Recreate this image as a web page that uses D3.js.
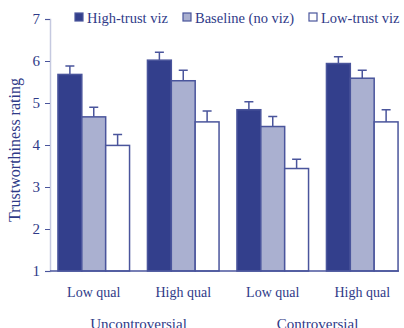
<!DOCTYPE html>
<head>
  <meta charset="utf-8">
  <script src="https://d3js.org/d3.v7.min.js"></script>
  <style>
    body { margin: 0; background: #fff; }
    svg { display: block; }
    text { font-family: "Liberation Serif", "DejaVu Serif", serif; fill: #2f3a88; }
  </style>
</head>

<body>
  <script type='text/javascript'>

    var groups = ["Uncontroversial|Low qual", "Uncontroversial|High qual", "Controversial|Low qual", "Controversial|High qual"];
    var groupLabels = ["Low qual", "High qual", "Low qual", "High qual"];
    var topics = ["Uncontroversial", "Controversial"];
    var seriesNames = ["High-trust viz", "Baseline (no viz)", "Low-trust viz"];

    // means and upper error bar ends, per series, in group order
    var highTrust = [5.68, 6.02, 4.84, 5.94];
    var highTrustErr = [5.88, 6.21, 5.03, 6.10];
    var baseline = [4.67, 5.53, 4.44, 5.59];
    var baselineErr = [4.90, 5.78, 4.68, 5.78];
    var lowTrust = [3.99, 4.55, 3.44, 4.55];
    var lowTrustErr = [4.25, 4.81, 3.66, 4.84];

    var yTicks = [1, 2, 3, 4, 5, 6, 7];

    var width = 404, height = 328;
    var ink = "#4a559c";
    var fills = ["#333f8c", "#aab0d0", "#ffffff"];

    var svg = d3.select('body')
      .append('svg')
      .attr("width", width)
      .attr("height", height);

    var x0 = d3.scaleBand()
      .domain(groups)
      .range([49, 407])
      .paddingInner(0.2)
      .paddingOuter(0.1);

    var x1 = d3.scaleBand()
      .domain(seriesNames)
      .range([0, x0.bandwidth()]);

    var y = d3.scaleLinear()
      .domain([1, 7])
      .range([271, 19]);

    var series = [
      { name: seriesNames[0], vals: highTrust, errs: highTrustErr },
      { name: seriesNames[1], vals: baseline, errs: baselineErr },
      { name: seriesNames[2], vals: lowTrust, errs: lowTrustErr }
    ];

    // y axis
    var yAxis = d3.axisLeft(y)
      .tickValues(yTicks)
      .tickSize(5)
      .tickPadding(5)
      .tickFormat(d3.format("d"));

    var gy = svg.append('g')
      .attr('transform', 'translate(50,0)')
      .call(yAxis);
    gy.select('.domain').attr('stroke', '#c5c9e0').attr('stroke-width', 1.5);
    gy.selectAll('.tick line').attr('stroke', ink);
    gy.selectAll('.tick text').attr('font-size', 15).attr('fill', '#2f3a88')
      .style('font-family', '"Liberation Serif", serif');

    svg.append('text')
      .attr('transform', 'translate(20,150) rotate(-90)')
      .attr('text-anchor', 'middle')
      .attr('font-size', 16)
      .text('Trustworthiness rating');

    // bars
    series.forEach(function (s, si) {
      var g = svg.append('g');
      g.selectAll('rect')
        .data(groups)
        .enter().append('rect')
        .attr('x', function (d) { return x0(d) + x1(s.name); })
        .attr('y', function (d, i) { return y(s.vals[i]); })
        .attr('width', x1.bandwidth())
        .attr('height', function (d, i) { return y(1) - y(s.vals[i]); })
        .attr('fill', fills[si])
        .attr('stroke', ink)
        .attr('stroke-width', 1.5);

      // upper error bars
      g.selectAll('path.err')
        .data(groups)
        .enter().append('path')
        .attr('class', 'err')
        .attr('fill', 'none')
        .attr('stroke', ink)
        .attr('stroke-width', 1.5)
        .attr('d', function (d, i) {
          var cx = x0(d) + x1(s.name) + x1.bandwidth() / 2;
          return 'M' + cx + ',' + y(s.vals[i]) + 'V' + y(s.errs[i]) +
            'M' + (cx - 4.5) + ',' + y(s.errs[i]) + 'H' + (cx + 4.5);
        });
    });

    // x baseline
    svg.append('line')
      .attr('x1', 50).attr('x2', 399)
      .attr('y1', y(1)).attr('y2', y(1))
      .attr('stroke', ink).attr('stroke-width', 1.5);

    // group labels
    svg.selectAll('text.glabel')
      .data(groups)
      .enter().append('text')
      .attr('class', 'glabel')
      .attr('x', function (d) { return x0(d) + x0.bandwidth() / 2; })
      .attr('y', 297)
      .attr('text-anchor', 'middle')
      .attr('font-size', 14)
      .text(function (d, i) { return groupLabels[i]; });

    svg.selectAll('text.topic')
      .data(topics)
      .enter().append('text')
      .attr('class', 'topic')
      .attr('x', function (d, i) {
        return (x0(groups[i * 2]) + x0(groups[i * 2 + 1]) + x0.bandwidth()) / 2;
      })
      .attr('y', 329)
      .attr('text-anchor', 'middle')
      .attr('font-size', 15)
      .text(function (d) { return d; });

    // legend
    var legendX = [75, 183, 309];
    var leg = svg.selectAll('g.leg')
      .data(seriesNames)
      .enter().append('g')
      .attr('class', 'leg')
      .attr('transform', function (d, i) { return 'translate(' + legendX[i] + ',13)'; });
    leg.append('rect')
      .attr('width', 8).attr('height', 8)
      .attr('fill', function (d, i) { return fills[i]; })
      .attr('stroke', ink).attr('stroke-width', 1.2);
    leg.append('text')
      .attr('x', 12).attr('y', 9.5)
      .attr('font-size', 14.5)
      .text(function (d) { return d; });

  </script>
</body>
